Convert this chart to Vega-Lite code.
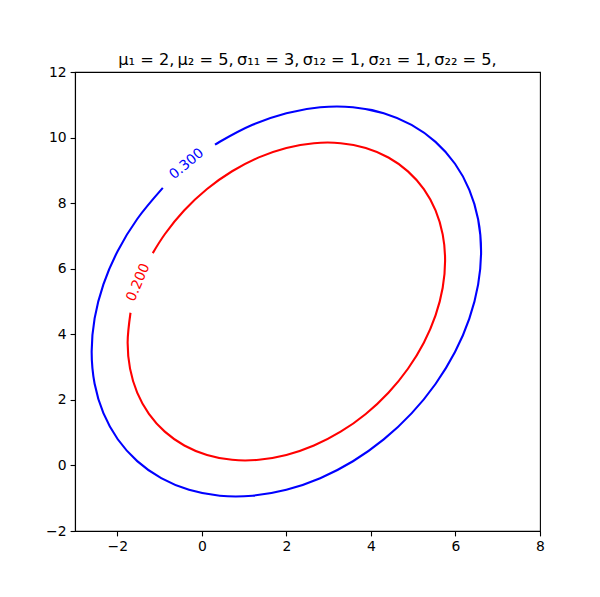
{
  "$schema": "https://vega.github.io/schema/vega-lite/v6.json",
  "width": 465,
  "height": 459,
  "autosize": {"type": "none"},
  "padding": {"left": 75, "top": 72, "right": 60, "bottom": 66},
  "background": "white",
  "title": {
    "text": "μ₁ = 2,\u2009μ₂ = 5,\u2009σ₁₁ = 3,\u2009σ₁₂ = 1,\u2009σ₂₁ = 1,\u2009σ₂₂ = 5,",
    "font": "DejaVu Sans",
    "fontSize": 16.2,
    "fontWeight": "normal",
    "color": "black",
    "frame": "group",
    "anchor": "middle",
    "offset": -3
  },
  "config": {
    "view": {"stroke": "black", "strokeWidth": 1.1},
    "axis": {
      "domainColor": "black",
      "domainWidth": 1.1,
      "tickColor": "black",
      "tickWidth": 1.1,
      "tickSize": 4.9,
      "labelFont": "DejaVu Sans",
      "labelFontSize": 13.9,
      "labelColor": "black",
      "labelPadding": 4,
      "grid": false
    }
  },
  "datasets": {
    "contours": [
      {"level": "0.200", "t": 169.1, "x": -1.687, "y": 4.657},
      {"level": "0.200", "t": 180, "x": -1.755, "y": 3.748},
      {"level": "0.200", "t": 190, "x": -1.698, "y": 2.954},
      {"level": "0.200", "t": 200, "x": -1.529, "y": 2.222},
      {"level": "0.200", "t": 210, "x": -1.252, "y": 1.574},
      {"level": "0.200", "t": 220, "x": -0.876, "y": 1.031},
      {"level": "0.200", "t": 230, "x": -0.414, "y": 0.608},
      {"level": "0.200", "t": 240, "x": 0.123, "y": 0.319},
      {"level": "0.200", "t": 250, "x": 0.716, "y": 0.171},
      {"level": "0.200", "t": 260, "x": 1.348, "y": 0.171},
      {"level": "0.200", "t": 270, "x": 2.0, "y": 0.317},
      {"level": "0.200", "t": 280, "x": 2.652, "y": 0.606},
      {"level": "0.200", "t": 290, "x": 3.284, "y": 1.028},
      {"level": "0.200", "t": 300, "x": 3.878, "y": 1.570},
      {"level": "0.200", "t": 310, "x": 4.414, "y": 2.218},
      {"level": "0.200", "t": 320, "x": 4.876, "y": 2.949},
      {"level": "0.200", "t": 330, "x": 5.252, "y": 3.743},
      {"level": "0.200", "t": 340, "x": 5.529, "y": 4.575},
      {"level": "0.200", "t": 350, "x": 5.698, "y": 5.420},
      {"level": "0.200", "t": 360, "x": 5.755, "y": 6.252},
      {"level": "0.200", "t": 370, "x": 5.698, "y": 7.046},
      {"level": "0.200", "t": 380, "x": 5.529, "y": 7.778},
      {"level": "0.200", "t": 390, "x": 5.252, "y": 8.426},
      {"level": "0.200", "t": 400, "x": 4.876, "y": 8.969},
      {"level": "0.200", "t": 410, "x": 4.414, "y": 9.392},
      {"level": "0.200", "t": 420, "x": 3.878, "y": 9.681},
      {"level": "0.200", "t": 430, "x": 3.284, "y": 9.829},
      {"level": "0.200", "t": 440, "x": 2.652, "y": 9.829},
      {"level": "0.200", "t": 450, "x": 2.0, "y": 9.683},
      {"level": "0.200", "t": 460, "x": 1.348, "y": 9.395},
      {"level": "0.200", "t": 470, "x": 0.716, "y": 8.973},
      {"level": "0.200", "t": 480, "x": 0.123, "y": 8.430},
      {"level": "0.200", "t": 490, "x": -0.414, "y": 7.782},
      {"level": "0.200", "t": 500, "x": -0.876, "y": 7.051},
      {"level": "0.200", "t": 507.3, "x": -1.160, "y": 6.476},
      {"level": "0.300", "t": 129.4, "x": -0.923, "y": 8.464},
      {"level": "0.300", "t": 140, "x": -1.528, "y": 7.516},
      {"level": "0.300", "t": 150, "x": -1.989, "y": 6.543},
      {"level": "0.300", "t": 160, "x": -2.328, "y": 5.522},
      {"level": "0.300", "t": 170, "x": -2.536, "y": 4.486},
      {"level": "0.300", "t": 180, "x": -2.606, "y": 3.465},
      {"level": "0.300", "t": 190, "x": -2.536, "y": 2.491},
      {"level": "0.300", "t": 200, "x": -2.328, "y": 1.593},
      {"level": "0.300", "t": 210, "x": -1.989, "y": 0.799},
      {"level": "0.300", "t": 220, "x": -1.528, "y": 0.132},
      {"level": "0.300", "t": 230, "x": -0.961, "y": -0.387},
      {"level": "0.300", "t": 240, "x": -0.303, "y": -0.742},
      {"level": "0.300", "t": 250, "x": 0.425, "y": -0.923},
      {"level": "0.300", "t": 260, "x": 1.200, "y": -0.923},
      {"level": "0.300", "t": 270, "x": 2.0, "y": -0.744},
      {"level": "0.300", "t": 280, "x": 2.800, "y": -0.390},
      {"level": "0.300", "t": 290, "x": 3.575, "y": 0.127},
      {"level": "0.300", "t": 300, "x": 4.303, "y": 0.793},
      {"level": "0.300", "t": 310, "x": 4.961, "y": 1.587},
      {"level": "0.300", "t": 320, "x": 5.528, "y": 2.484},
      {"level": "0.300", "t": 330, "x": 5.989, "y": 3.457},
      {"level": "0.300", "t": 340, "x": 6.328, "y": 4.478},
      {"level": "0.300", "t": 350, "x": 6.536, "y": 5.515},
      {"level": "0.300", "t": 360, "x": 6.606, "y": 6.535},
      {"level": "0.300", "t": 370, "x": 6.536, "y": 7.509},
      {"level": "0.300", "t": 380, "x": 6.328, "y": 8.407},
      {"level": "0.300", "t": 390, "x": 5.989, "y": 9.201},
      {"level": "0.300", "t": 400, "x": 5.528, "y": 9.868},
      {"level": "0.300", "t": 410, "x": 4.961, "y": 10.387},
      {"level": "0.300", "t": 420, "x": 4.303, "y": 10.742},
      {"level": "0.300", "t": 430, "x": 3.575, "y": 10.923},
      {"level": "0.300", "t": 440, "x": 2.800, "y": 10.923},
      {"level": "0.300", "t": 450, "x": 2.0, "y": 10.744},
      {"level": "0.300", "t": 460, "x": 1.200, "y": 10.390},
      {"level": "0.300", "t": 470, "x": 0.425, "y": 9.873},
      {"level": "0.300", "t": 471.5, "x": 0.312, "y": 9.782}
    ],
    "labels": [
      {"level": "0.300", "x": -0.357, "y": 9.194},
      {"level": "0.200", "x": -1.502, "y": 5.58}
    ]
  },
  "layer": [
    {
      "data": {"name": "contours"},
      "mark": {"type": "line", "interpolate": "catmull-rom", "strokeWidth": 2.1, "clip": true},
      "encoding": {
        "x": {
          "field": "x", "type": "quantitative",
          "scale": {"domain": [-3, 8], "nice": false, "zero": false},
          "axis": {"values": [-2, 0, 2, 4, 6, 8], "title": null, "labelFlush": false, "format": "d"}
        },
        "y": {
          "field": "y", "type": "quantitative",
          "scale": {"domain": [-2, 12], "nice": false, "zero": false},
          "axis": {"values": [-2, 0, 2, 4, 6, 8, 10, 12], "title": null, "format": "d"}
        },
        "color": {
          "field": "level", "type": "nominal",
          "scale": {"domain": ["0.200", "0.300"], "range": ["#ff0000", "#0000ff"]},
          "legend": null
        },
        "order": {"field": "t", "type": "quantitative"}
      }
    },
    {
      "data": {"name": "labels"},
      "transform": [{"filter": "datum.level == '0.300'"}],
      "mark": {"type": "text", "angle": 320, "color": "#0000ff", "font": "DejaVu Sans", "fontSize": 13.9, "align": "center", "baseline": "middle"},
      "encoding": {
        "x": {"field": "x", "type": "quantitative"},
        "y": {"field": "y", "type": "quantitative"},
        "text": {"field": "level", "type": "nominal"}
      }
    },
    {
      "data": {"name": "labels"},
      "transform": [{"filter": "datum.level == '0.200'"}],
      "mark": {"type": "text", "angle": 293, "color": "#ff0000", "font": "DejaVu Sans", "fontSize": 13.9, "align": "center", "baseline": "middle"},
      "encoding": {
        "x": {"field": "x", "type": "quantitative"},
        "y": {"field": "y", "type": "quantitative"},
        "text": {"field": "level", "type": "nominal"}
      }
    }
  ]
}
